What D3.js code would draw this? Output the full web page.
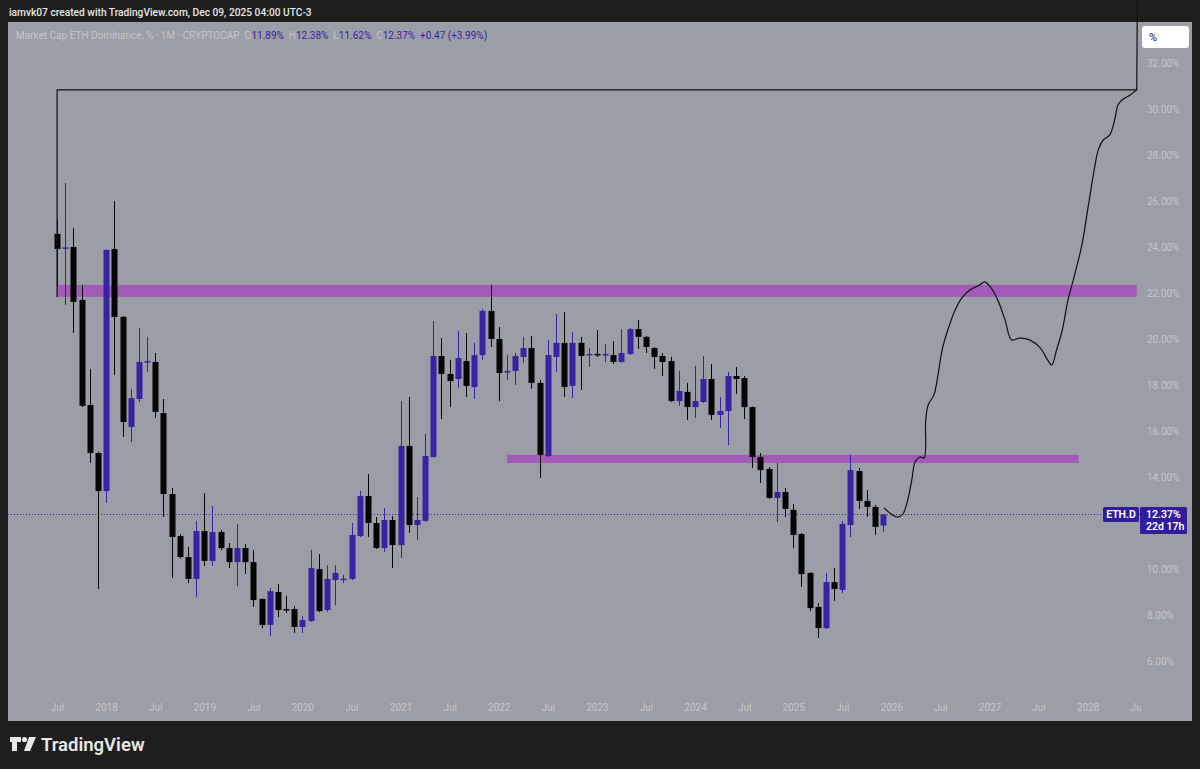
<!DOCTYPE html>
<html>
<head>
<meta charset="utf-8">
<script src="https://cdn.jsdelivr.net/npm/d3@7"></script>
<style>
  body { margin: 0; background: #1e1e1e; }
  svg { display: block; font-family: Roboto, "Noto Sans", sans-serif; }
</style>
</head>
<body>
<svg id="chart" width="1200" height="769"></svg>
<script>
// CRYPTOCAP:ETH.D monthly bars, bar 0 = Jul 2017, last bar = Dec 2025
var opens  = [24.57,23.95,24.00,21.70,17.13,15.04,13.39,23.91,20.96,16.17,17.39,19.00,19.00,16.78,13.26,11.43,10.52,9.57,11.65,10.35,11.61,10.91,10.30,10.91,10.30,8.70,7.57,9.00,8.26,8.26,7.48,7.74,10.00,8.22,9.52,9.55,9.57,11.43,13.17,12.00,10.91,12.13,11.04,15.35,11.91,12.09,14.87,19.26,18.48,18.26,19.04,17.91,19.30,21.22,20.00,18.57,18.61,19.22,19.61,18.09,14.91,19.22,19.83,17.96,19.83,19.30,19.35,19.30,19.30,19.00,19.35,20.43,20.09,19.61,19.26,19.04,17.30,17.70,17.04,17.26,18.26,16.70,16.87,18.39,18.30,17.04,14.87,14.35,13.09,13.35,12.57,11.52,9.83,8.35,7.43,9.43,9.09,11.91,14.26,12.96,12.70,11.89];
var highs  = [25.20,26.78,24.83,22.35,18.70,15.10,23.90,26.00,21.00,17.83,20.48,20.09,19.39,17.39,13.52,11.50,10.96,12.09,13.30,12.74,11.70,11.13,11.96,11.09,10.83,8.72,9.17,9.35,8.83,8.39,7.96,10.83,10.65,10.17,10.17,9.74,12.00,13.39,14.13,12.26,12.65,12.30,17.30,17.48,13.13,15.87,20.78,20.04,19.09,20.35,20.26,19.83,21.30,22.35,20.52,19.30,19.39,20.09,20.13,18.22,19.96,21.09,21.17,20.30,20.09,19.61,20.39,19.78,19.91,20.43,20.48,20.83,20.13,19.65,19.39,19.22,18.61,18.09,18.83,19.26,18.91,17.48,18.57,18.78,18.39,17.06,15.04,14.43,14.61,13.52,12.83,11.57,9.85,8.52,9.83,10.04,12.09,14.96,14.39,13.43,12.78,12.38];
var lows   = [22.30,21.48,20.26,17.04,14.61,9.13,12.87,18.43,15.74,15.52,17.26,18.57,16.57,12.26,9.61,10.45,9.39,8.78,10.13,10.13,10.83,10.04,9.26,9.78,8.35,7.43,7.09,7.91,8.09,7.22,7.22,7.70,8.13,8.13,8.43,9.39,9.52,11.39,11.39,10.87,10.74,10.04,10.48,11.57,11.26,12.05,14.85,16.52,17.04,17.87,17.48,17.39,19.09,19.65,17.30,18.22,18.00,18.96,17.83,13.96,14.87,18.57,17.48,17.43,17.78,18.78,19.22,19.00,18.91,18.96,19.30,19.57,19.39,18.70,18.39,17.26,17.09,16.48,16.57,17.22,16.48,16.13,15.39,17.61,16.52,14.39,13.74,13.05,12.04,12.26,10.91,9.22,8.17,7.00,7.39,8.61,8.96,11.39,12.61,12.26,11.48,11.62];
var closes = [23.91,23.98,21.61,17.09,15.04,13.39,23.87,20.96,16.39,17.43,19.00,19.04,16.83,13.26,11.39,10.52,9.57,11.65,10.35,11.61,10.91,10.30,10.91,10.30,8.65,7.57,9.04,8.22,8.22,7.48,7.78,10.04,8.17,9.57,9.83,9.58,11.48,13.17,12.00,10.91,12.13,11.04,15.35,11.91,12.13,14.91,19.26,18.48,18.17,19.17,17.96,19.30,21.22,20.00,18.52,18.61,19.26,19.61,18.09,14.96,19.30,19.83,17.91,19.83,19.26,19.35,19.30,19.35,19.00,19.39,20.43,20.09,19.65,19.22,19.00,17.30,17.74,17.04,17.30,18.26,16.70,16.87,18.39,18.26,17.04,14.87,14.30,13.09,13.35,12.61,11.48,9.78,8.30,7.43,9.43,9.13,11.96,14.30,12.96,12.70,11.83,12.37];

var timeTicks  = [0,6,12,18,24,30,36,42,48,54,60,66,72,78,84,90,96,102,108,114,120,126,132];
var timeLabels = ["Jul","2018","Jul","2019","Jul","2020","Jul","2021","Jul","2022","Jul","2023","Jul","2024","Jul","2025","Jul","2026","Jul","2027","Jul","2028","Jul"];
// 12.00% sits under the last price label, so it is not shown
var priceTicks = [6,8,10,14,16,18,20,22,24,26,28,30,32];

// drawn zones (bar index range, value range)
var zoneStart  = [0, 55];
var zoneEnd    = [132, 124.9];
var zoneTop    = [22.35, 14.96];
var zoneBottom = [21.83, 14.61];

// drawn frame line
var frameIdx = [0, 0, 132, 132.1];
var frameVal = [21.83, 30.83, 30.83, 36];

// hand drawn projection path
var pathIdx = [101.1,102.7,103.4,104.0,104.5,104.9,105.5,106.0,106.2,106.5,107.2,107.7,108.2,108.9,109.8,110.6,111.6,112.8,113.4,114.1,115.0,115.9,116.7,117.7,118.9,120.2,121.1,121.6,122.2,122.9,123.6,124.4,125.3,126.0,126.8,127.3,127.9,128.7,129.3,129.7,130.2,131.2,132.0];
var pathVal = [12.65,12.26,12.39,13.00,13.87,14.65,14.87,14.83,16.48,17.13,17.57,18.43,19.52,20.39,21.26,21.78,22.13,22.35,22.48,22.26,21.70,20.83,19.96,20.04,19.96,19.61,19.09,18.87,19.52,20.39,21.70,22.78,24.09,25.61,27.35,28.22,28.65,28.87,29.52,30.17,30.39,30.61,30.83];

var lastPrice = 12.37;
var legendVals = ["11.89%", "12.38%", "11.62%", "12.37%", "+0.47 (+3.99%)"];

var pane = {left: 8, right: 1140, top: 22, bottom: 690, axisRight: 1192, axisBottom: 721};
var upColor = "#3a22a4", downColor = "#050505", faint = "#c3c6cd";

var svg = d3.select("#chart");

var x = d3.scaleLinear().domain([-6, 132.4]).range([pane.left, pane.right]);
var y = d3.scaleLinear().domain([4.74, 33.78]).range([pane.bottom, pane.top]);

svg.append("rect")
  .attr("width", 1200).attr("height", 769).attr("fill", "#1e1e1e");

svg.append("rect")
  .attr("x", pane.left).attr("y", pane.top)
  .attr("width", pane.axisRight - pane.left)
  .attr("height", pane.axisBottom - pane.top)
  .attr("fill", "#9b9ea7");

svg.append("clipPath").attr("id", "paneclip")
  .append("rect")
  .attr("x", pane.left).attr("y", 0)
  .attr("width", pane.right - pane.left).attr("height", pane.bottom);

svg.append("clipPath").attr("id", "timeclip")
  .append("rect")
  .attr("x", pane.left).attr("y", pane.bottom)
  .attr("width", pane.right + 1 - pane.left).attr("height", pane.axisBottom - pane.bottom);

var plot = svg.append("g").attr("clip-path", "url(#paneclip)");

// zones
plot.selectAll(".zone")
  .data(zoneStart)
  .enter().append("rect")
  .attr("class", "zone")
  .attr("x", function(d) { return x(d); })
  .attr("width", function(d, i) { return x(zoneEnd[i]) - x(d); })
  .attr("y", function(d, i) { return y(zoneTop[i]); })
  .attr("height", function(d, i) { return y(zoneBottom[i]) - y(zoneTop[i]); })
  .attr("fill", "#a25cb8");

// last price dotted line
plot.append("line")
  .attr("x1", pane.left).attr("x2", pane.right)
  .attr("y1", Math.round(y(lastPrice)) + 0.5).attr("y2", Math.round(y(lastPrice)) + 0.5)
  .attr("stroke", upColor)
  .attr("stroke-dasharray", "1,2");

// candles
var candles = plot.selectAll(".candle")
  .data(opens)
  .enter().append("g")
  .attr("class", "candle")
  .attr("fill", function(d, i) { return closes[i] >= d ? upColor : downColor; })
  .attr("stroke", function(d, i) { return closes[i] >= d ? upColor : downColor; });

candles.append("line")
  .attr("x1", function(d, i) { return Math.round(x(i)) + 0.5; })
  .attr("x2", function(d, i) { return Math.round(x(i)) + 0.5; })
  .attr("y1", function(d, i) { return y(highs[i]); })
  .attr("y2", function(d, i) { return y(lows[i]); });

candles.append("rect")
  .attr("stroke", "none")
  .attr("x", function(d, i) { return Math.round(x(i)) - 2.5; })
  .attr("width", 6)
  .attr("y", function(d, i) { return y(Math.max(d, closes[i])); })
  .attr("height", function(d, i) { return Math.max(1.5, Math.abs(y(d) - y(closes[i]))); });

// drawings
var line = d3.line()
  .x(function(d) { return x(d[0]); })
  .y(function(d) { return y(d[1]); });

plot.append("path")
  .attr("d", line(frameIdx.map(function(d, i) { return [d, frameVal[i]]; })))
  .attr("fill", "none")
  .attr("stroke", "#111")
  .attr("stroke-width", 1.2);

plot.append("path")
  .attr("d", line.curve(d3.curveCatmullRom)(pathIdx.map(function(d, i) { return [d, pathVal[i]]; })))
  .attr("fill", "none")
  .attr("stroke", "#111")
  .attr("stroke-width", 1.2);

// price axis
var yAxis = svg.append("g")
  .attr("transform", "translate(" + pane.right + ",0)")
  .call(d3.axisRight(y)
    .tickValues(priceTicks)
    .tickSize(0)
    .tickPadding(7)
    .tickFormat(function(d) { return d.toFixed(2) + "%"; }));
yAxis.select(".domain").remove();
yAxis.selectAll("text")
  .attr("fill", faint)
  .style("font-size", "10px")
  .style("font-family", "Roboto, sans-serif");

// time axis
var xAxis = svg.append("g")
  .attr("clip-path", "url(#timeclip)")
  .append("g")
  .attr("transform", "translate(0," + pane.bottom + ")")
  .call(d3.axisBottom(x)
    .tickValues(timeTicks)
    .tickSize(0)
    .tickPadding(14)
    .tickFormat(function(d, i) { return timeLabels[i]; }));
xAxis.select(".domain").remove();
xAxis.selectAll("text")
  .attr("fill", faint)
  .style("font-size", "10px")
  .style("font-family", "Roboto, sans-serif");

// last price labels
var py = Math.round(y(lastPrice));
svg.append("rect")
  .attr("x", 1103).attr("y", py - 7).attr("width", 36).attr("height", 15)
  .attr("rx", 1.5).attr("fill", "#2f1d9a");
svg.append("text")
  .attr("x", 1121).attr("y", py + 4)
  .attr("text-anchor", "middle")
  .attr("fill", "#fff").style("font-size", "10.5px").style("font-weight", 600)
  .text("ETH.D");
svg.append("rect")
  .attr("x", 1140).attr("y", py - 7).attr("width", 47).attr("height", 27)
  .attr("rx", 1.5).attr("fill", "#2f1d9a");
svg.append("text")
  .attr("x", 1146).attr("y", py + 4)
  .attr("fill", "#fff").style("font-size", "10.5px").style("font-weight", 600)
  .text(lastPrice.toFixed(2) + "%");
svg.append("text")
  .attr("x", 1146).attr("y", py + 16)
  .attr("fill", "#fff").style("font-size", "10.5px").style("font-weight", 600)
  .text("22d 17h");

// % button
svg.append("rect")
  .attr("x", 1142).attr("y", 26).attr("width", 47).attr("height", 22)
  .attr("rx", 3).attr("fill", "#ffffff");
svg.append("text")
  .attr("x", 1149).attr("y", 41)
  .attr("fill", "#131722").style("font-size", "11px")
  .text("%");

// header
svg.append("text")
  .attr("x", 9).attr("y", 16)
  .attr("fill", "#e6e6e6").style("font-size", "10.2px").style("font-weight", 500)
  .text("iamvk07 created with TradingView.com, Dec 09, 2025 04:00 UTC-3");

var legend = svg.append("text")
  .attr("x", 16).attr("y", 39)
  .style("white-space", "pre")
  .style("font-size", "10px");
legend.append("tspan").attr("fill", faint).text("Market Cap ETH Dominance, % \u00b7 1M \u00b7 CRYPTOCAP  O");
legend.append("tspan").attr("fill", upColor).text(legendVals[0]);
legend.append("tspan").attr("fill", faint).text("  H");
legend.append("tspan").attr("fill", upColor).text(legendVals[1]);
legend.append("tspan").attr("fill", faint).text("  L");
legend.append("tspan").attr("fill", upColor).text(legendVals[2]);
legend.append("tspan").attr("fill", faint).text("  C");
legend.append("tspan").attr("fill", upColor).text(legendVals[3]);
legend.append("tspan").attr("fill", upColor).text("  " + legendVals[4]);

// footer logo
var logo = svg.append("g").attr("fill", "#e8e8e8");
logo.append("path").attr("d", "M10,737 h11 v5 h-4 v9 h-5 v-9 h-2 z");
logo.append("circle").attr("cx", 24.5).attr("cy", 739.5).attr("r", 2.6);
logo.append("path").attr("d", "M29,737 h7 l-6,14 h-6 z");
svg.append("text")
  .attr("x", 41).attr("y", 751)
  .attr("fill", "#e8e8e8").style("font-size", "18.5px").style("font-weight", 600)
  .text("TradingView");
</script>
</body>
</html>
